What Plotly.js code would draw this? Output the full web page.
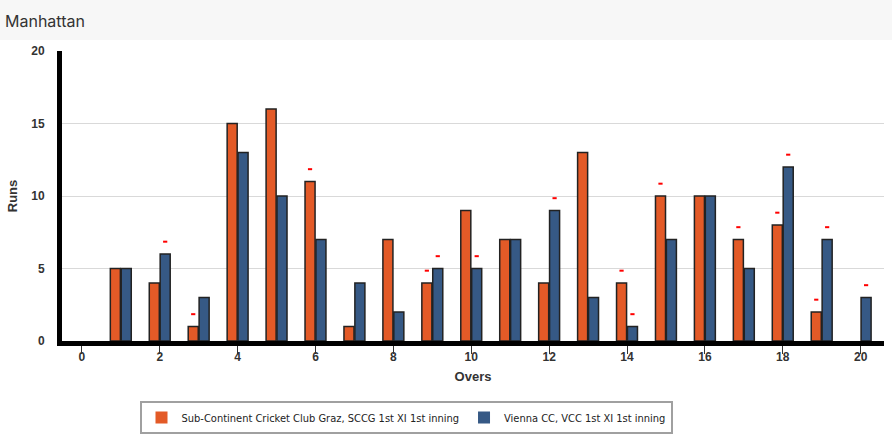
<!DOCTYPE html>
<html>
<head>
<meta charset="utf-8">
<script src="https://cdn.plot.ly/plotly-3.0.1.min.js"></script>
<style>html,body{margin:0;padding:0;background:#fff;}#chart{width:892px;height:436px;}</style>
</head>
<body>
<div id="chart"></div>
<script>
const overs = [1,2,3,4,5,6,7,8,9,10,11,12,13,14,15,16,17,18,19,20];
const sccgRuns = [5,4,1,15,16,11,1,7,4,9,7,4,13,4,10,10,7,8,2,0];
const vccRuns  = [5,6,3,13,10,7,4,2,5,5,7,9,3,1,7,10,5,12,7,3];
// wicket marker heights (null = no wicket)
const sccgWickets = [null,null,1.85,null,null,11.85,null,null,4.85,null,null,null,null,4.85,10.85,null,7.85,8.85,2.85,null];
const vccWickets  = [null,6.85,null,null,null,null,null,null,5.85,5.85,null,9.85,null,1.85,null,null,null,12.85,7.85,3.85];
const sccgName = 'Sub-Continent Cricket Club Graz, SCCG 1st XI 1st inning';
const vccName = 'Vienna CC, VCC 1st XI 1st inning';
const xTicks = [0,2,4,6,8,10,12,14,16,18,20];
const yTicks = [0,5,10,15,20];

const orange = '#e35a27';
const blue = '#365985';
const W = 892, H = 436, L = 62, R = 8, T = 51, B = 95;
const pw = W - L - R, ph = H - T - B;

const outline = v => v.map(r => r > 0 ? 1.5 : 0);
const wk = {symbol:'line-ew', size:3, color:'#ff0000', line:{color:'#ff0000', width:2}};

const traces = [
  {type:'bar', x:overs, y:sccgRuns, name:sccgName, showlegend:false, marker:{color:orange, line:{color:'#222', width:outline(sccgRuns)}}},
  {type:'bar', x:overs, y:vccRuns, name:vccName, showlegend:false, marker:{color:blue, line:{color:'#222', width:outline(vccRuns)}}},
  {type:'scatter', mode:'markers', x:overs, y:sccgWickets, showlegend:false, marker:wk},
  {type:'scatter', mode:'markers', x:overs, y:vccWickets, showlegend:false, marker:wk},
  // legend entries (no data) on a hidden axis pair
  {type:'scatter', mode:'markers', x:[null], y:[null], xaxis:'x2', yaxis:'y2', name:sccgName,
   marker:{symbol:'square', size:12, color:orange, line:{width:0}}},
  {type:'scatter', mode:'markers', x:[null], y:[null], xaxis:'x2', yaxis:'y2', name:vccName,
   marker:{symbol:'square', size:12, color:blue, line:{width:0}}}
];

const tickFont = {family:'Liberation Sans, Arial, sans-serif', size:12, color:'#333', weight:'bold'};
const titleFont = {family:'Liberation Sans, Arial, sans-serif', size:13, color:'#333', weight:'bold'};

const layout = {
  width:W, height:H,
  margin:{l:L, r:R, t:T, b:B, pad:0, autoexpand:false},
  paper_bgcolor:'#fff', plot_bgcolor:'#fff',
  barmode:'group', bargap:0.44, bargroupgap:0.08,
  scattermode:'group', scattergap:0.44,
  showlegend:true,
  title:{text:'Manhattan', xref:'container', yref:'container', x:5/W, xanchor:'left', y:1-21/H, yanchor:'middle',
         font:{family:'Inter, Lato, sans-serif', size:16, color:'#333'}},
  xaxis:{range:[-0.51,20.6], tickvals:xTicks, ticktext:xTicks.map(String), showgrid:false, zeroline:false,
         showline:true, linecolor:'#000', linewidth:5, ticks:'outside', ticklen:8, tickcolor:'#333', tickwidth:1,
         ticklabelstandoff:-7,
         tickfont:tickFont, fixedrange:true, automargin:false,
         title:{text:'Overs', font:titleFont, standoff:10}},
  yaxis:{range:[0,20], tickvals:yTicks, ticktext:yTicks.map(String), showgrid:true, gridcolor:'#d9d9d9', gridwidth:1,
         zeroline:false, showline:true, linecolor:'#000', linewidth:5, ticks:'', ticklabelstandoff:10,
         tickfont:tickFont, fixedrange:true, automargin:false,
         title:{text:'Runs', font:titleFont, standoff:12}},
  xaxis2:{overlaying:'x', visible:false, range:[0,1]},
  yaxis2:{overlaying:'y', visible:false, range:[0,1]},
  legend:{orientation:'h', x:(406-L)/pw, xanchor:'center', y:-(401-341)/ph, yanchor:'top',
          bgcolor:'#fff', bordercolor:'#a0a0a0', borderwidth:2,
          font:{family:'DejaVu Sans Condensed, sans-serif', size:11, color:'#222'}, itemwidth:30, traceorder:'normal'},
  shapes:[
    {type:'rect', xref:'paper', yref:'paper', x0:-L/pw, x1:1+R/pw, y0:1+(T-40)/ph, y1:1+T/ph,
     fillcolor:'#f7f7f7', line:{width:0}, layer:'below'}
  ]
};

Plotly.newPlot('chart', traces, layout, {displayModeBar:false, staticPlot:true});
</script>
</body>
</html>
